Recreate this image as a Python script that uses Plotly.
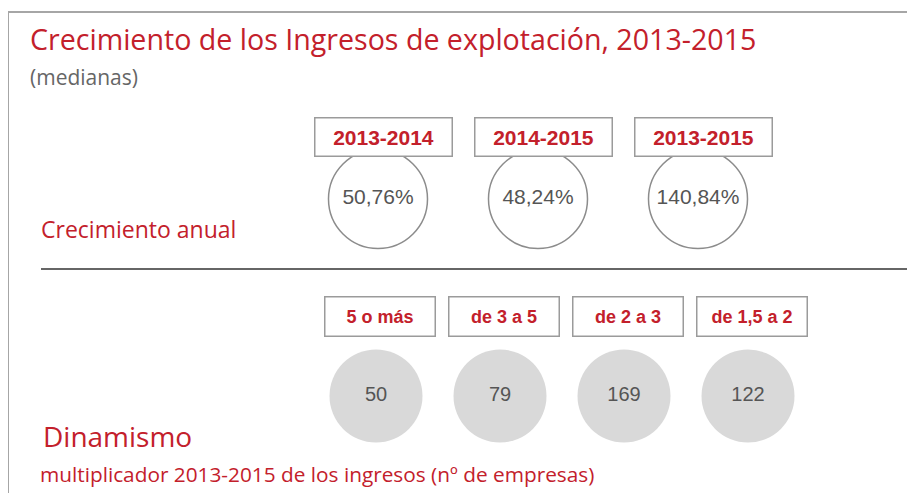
import plotly.graph_objects as go

# ---- data ----
periodos = ["2013-2014", "2014-2015", "2013-2015"]
crecimiento = [50.76, 48.24, 140.84]          # % mediana
rangos = ["5 o más", "de 3 a 5", "de 2 a 3", "de 1,5 a 2"]
empresas = [50, 79, 169, 122]                 # nº de empresas

title_text = "Crecimiento de los Ingresos de explotación, 2013-2015"
subtitle_text = "(medianas)"
label_top = "Crecimiento anual"
label_bottom = "Dinamismo"
note_bottom = "multiplicador 2013-2015 de los ingresos (nº de empresas)"

# ---- styling / layout ----
OFF = 8                     # page body margin of the html page
W, H = 915 - OFF, 493 - OFF
RED = "#C3202B"
GREY_TXT = "#555555"
BOX_LINE = "#9b9b9b"
TXT_FONT = "Open Sans"


def px(x):
    return (x - OFF) / W


def py(y):
    return 1 - (y - OFF) / H


def fmt_pct(v):
    return f"{v:.2f}".replace(".", ",") + "%"


fig = go.Figure()

# top row: outlined circles
fig.add_trace(go.Scatter(
    x=periodos, y=[0] * len(periodos), xaxis="x", yaxis="y",
    mode="markers+text",
    marker=dict(size=99, color="white", line=dict(color="#8c8c8c", width=1.5)),
    text=[fmt_pct(v) for v in crecimiento], textposition="middle center",
    textfont=dict(family="Liberation Sans", size=21, color=GREY_TXT),
    cliponaxis=False, hoverinfo="skip", showlegend=False,
))

# bottom row: filled grey circles
fig.add_trace(go.Scatter(
    x=rangos, y=[0] * len(rangos), xaxis="x2", yaxis="y2",
    mode="markers+text",
    marker=dict(size=93, color="#d9d9d9", line=dict(width=0)),
    text=[str(v) for v in empresas], textposition="middle center",
    textfont=dict(family="Liberation Sans", size=20, color=GREY_TXT),
    cliponaxis=False, hoverinfo="skip", showlegend=False,
))

annotations = []
# header boxes, top row
for i, p in enumerate(periodos):
    annotations.append(dict(
        x=p, xref="x", y=py(116.5), yref="paper", xshift=5,
        text=f"<b>{p}</b>", showarrow=False,
        font=dict(family="Liberation Sans", size=21, color=RED),
        bordercolor=BOX_LINE, borderwidth=1.5, borderpad=0,
        width=136, height=37, bgcolor="white",
    ))
# header boxes, bottom row
for r in rangos:
    annotations.append(dict(
        x=r, xref="x2", y=py(316), yref="paper", xshift=4,
        text=f"<b>{r}</b>", showarrow=False,
        font=dict(family="Liberation Sans", size=18, color=RED),
        bordercolor=BOX_LINE, borderwidth=1.5, borderpad=0,
        width=109, height=38, bgcolor="white",
    ))

# text blocks
annotations += [
    dict(x=px(28), y=py(60), xref="paper", yref="paper", xanchor="left", yanchor="bottom",
         text=title_text, showarrow=False,
         font=dict(family=TXT_FONT, size=28.6, color=RED)),
    dict(x=px(28), y=py(60.5), xref="paper", yref="paper", xanchor="left", yanchor="top",
         text=subtitle_text, showarrow=False,
         font=dict(family=TXT_FONT, size=21, color="#666666")),
    dict(x=px(39), y=py(229), xref="paper", yref="paper", xanchor="left", yanchor="middle",
         text=label_top, showarrow=False,
         font=dict(family=TXT_FONT, size=23, color=RED)),
    dict(x=px(41), y=py(436), xref="paper", yref="paper", xanchor="left", yanchor="middle",
         text=label_bottom, showarrow=False,
         font=dict(family=TXT_FONT, size=28, color=RED)),
    dict(x=px(38), y=py(474), xref="paper", yref="paper", xanchor="left", yanchor="middle",
         text=note_bottom, showarrow=False,
         font=dict(family=TXT_FONT, size=20.8, color=RED)),
]

shapes = [
    # page frame (left and top edges)
    dict(type="line", xref="paper", yref="paper", x0=px(8), x1=px(8), y0=py(12), y1=0,
         line=dict(color="#a6a6a6", width=2)),
    dict(type="line", xref="paper", yref="paper", x0=px(8), x1=1, y0=py(12), y1=py(12),
         line=dict(color="#a6a6a6", width=2)),
    # separator
    dict(type="line", xref="paper", yref="paper", x0=px(41), x1=1, y0=py(269), y1=py(269),
         line=dict(color="#666666", width=2)),
]

ax_common = dict(showgrid=False, zeroline=False, showticklabels=False, showline=False,
                 ticks="", fixedrange=True)

fig.update_layout(
    width=W, height=H,
    margin=dict(l=0, r=0, t=0, b=0),
    paper_bgcolor="white", plot_bgcolor="rgba(0,0,0,0)",
    xaxis=dict(domain=[px(298), px(778)], range=[-0.5, 2.5], type="category", **ax_common),
    yaxis=dict(domain=[py(199) - 0.1, py(199) + 0.1], range=[-1, 1], **ax_common),
    xaxis2=dict(domain=[px(314), px(810)], range=[-0.5, 3.5], type="category",
                anchor="y2", **ax_common),
    yaxis2=dict(domain=[py(396) - 0.1, py(396) + 0.1], range=[-1, 1], anchor="x2",
                **ax_common),
    annotations=annotations,
    shapes=shapes,
    showlegend=False,
)

fig.write_html("out.html")
